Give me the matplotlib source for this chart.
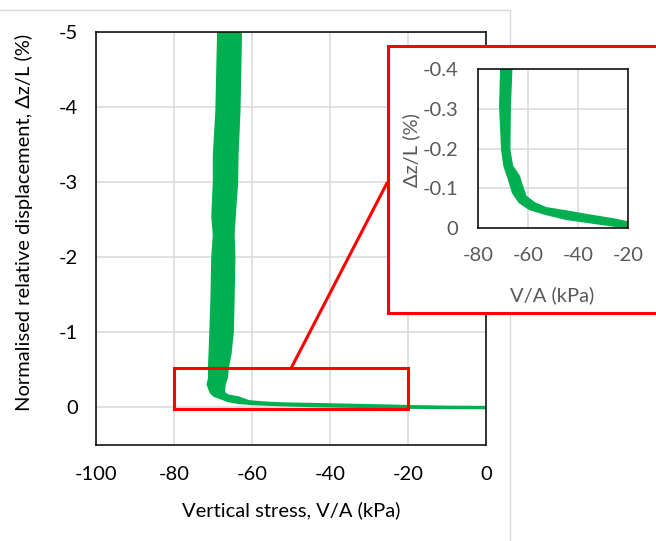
import matplotlib

matplotlib.use("Agg")
import matplotlib.pyplot as plt
from matplotlib.lines import Line2D
from matplotlib.patches import ConnectionPatch, Rectangle

# envelope of the measured trace, read off the picture
# outer edge = left side of the column, then lower side of the tail
outer_stress = [-68.6, -68.6, -69.05, -69.7, -69.7, -70.1, -69.7, -70.1, -70.3, -70.6, -70.8,
                -70.95, -70.9, -71.3, -70.5, -69.6, -67.8, -66.2, -63.5, -59.5, -52.8, -44.8,
                -32.7, -23.4, -20.0, -10.0, 0.0]
outer_disp = [-5.1, -5.0, -3.95, -3.35, -3.0, -2.55, -2.3, -2.0, -1.47, -1.0, -0.71,
              -0.53, -0.4, -0.306, -0.197, -0.156, -0.122, -0.089, -0.064, -0.047, -0.034, -0.022,
              -0.011, -0.003, 0.0, 0.004, 0.006]
# inner edge = right side of the column, then upper side of the tail
inner_stress = [-62.9, -62.9, -63.3, -63.8, -63.9, -64.5, -64.8, -64.6, -64.8, -65.0, -65.6,
                -66.3, -66.5, -67.1, -67.3, -66.2, -63.5, -62.2, -60.8, -57.5, -52.8, -44.8,
                -36.7, -26.0, -20.0, -10.0, 0.0]
inner_disp = [-5.1, -5.0, -3.95, -3.35, -3.0, -2.55, -2.3, -2.0, -1.47, -1.0, -0.71,
              -0.53, -0.4, -0.306, -0.197, -0.156, -0.131, -0.105, -0.08, -0.064, -0.051, -0.043,
              -0.034, -0.023, -0.015, -0.006, -0.003]

main_xticks = [-100, -80, -60, -40, -20, 0]
main_yticks = [-5, -4, -3, -2, -1, 0]
inset_xticks = [-80, -60, -40, -20]
inset_yticks = [-0.4, -0.3, -0.2, -0.1, 0.0]
inset_ylabels = ["-0.4", "-0.3", "-0.2", "-0.1", "0"]

GREEN = "#00B050"
GRID = "#d9d9d9"
W, H = 656, 541
FS = 14.5

plt.rcParams["font.family"] = ["Lato", "DejaVu Sans"]
plt.rcParams["axes.unicode_minus"] = False


def px_box(left, top, right, bottom):
    return [left / W, 1 - bottom / H, (right - left) / W, (bottom - top) / H]


def style_axes(ax, color, xpad, ypad):
    ax.grid(True, color=GRID, lw=1.1)
    ax.set_axisbelow(True)
    for sp in ax.spines.values():
        sp.set_color("black")
        sp.set_linewidth(1.1)
    ax.tick_params(length=0, labelsize=FS, labelcolor=color)
    ax.tick_params(axis="x", pad=xpad)
    ax.tick_params(axis="y", pad=ypad)


band_x = outer_stress + inner_stress[::-1]
band_y = outer_disp + inner_disp[::-1]

fig = plt.figure(figsize=(W / 100, H / 100), dpi=100)

# faint chart-area border (top and right)
fig.add_artist(Line2D([0, 510 / W], [1 - 9.5 / H] * 2, transform=fig.transFigure, color=GRID, lw=1))
fig.add_artist(Line2D([510 / W] * 2, [1 - 9.5 / H, 0], transform=fig.transFigure, color=GRID, lw=1))

ax = fig.add_axes(px_box(96, 32, 486, 445))
ax.fill(band_x, band_y, color=GREEN, ec=GREEN, lw=2)
ax.set_xlim(-100, 0)
ax.set_ylim(0.5, -5)
ax.set_xticks(main_xticks)
ax.set_yticks(main_yticks)
style_axes(ax, "black", 15, 13)
ax.add_patch(Rectangle((-80, -0.52), 60, 0.54, fill=False, ec="red", lw=2.2, zorder=4))

fig.text(291 / W, 1 - 510 / H, "Vertical stress, V/A (kPa)", ha="center", va="center", fontsize=FS)
fig.text(24 / W, 1 - 222 / H, "Normalised relative displacement, \u0394z/L (%)", ha="center",
         va="center", rotation=90, fontsize=FS)

# red frame around the zoomed view
fig.add_artist(Rectangle((388 / W, 1 - 313 / H), (680 - 388) / W, (313 - 46) / H,
                         transform=fig.transFigure, fc="white", ec="red", lw=2.2, zorder=2))
con = ConnectionPatch(xyA=(-50, -0.52), coordsA="data", axesA=ax,
                      xyB=(387 / W, 1 - 183 / H), coordsB="figure fraction",
                      color="red", lw=2.2, zorder=2.5)
fig.add_artist(con)

ins = fig.add_axes(px_box(478, 69, 628, 228))
ins.set_zorder(3)
ins.fill(band_x, band_y, color=GREEN, ec=GREEN, lw=1)
ins.set_xlim(-80, -20)
ins.set_ylim(0, -0.4)
ins.set_xticks(inset_xticks)
ins.set_yticks(inset_yticks)
ins.set_yticklabels(inset_ylabels)
style_axes(ins, "#595959", 14, 14)

fig.text(552 / W, 1 - 295 / H, "V/A (kPa)", ha="center", va="center", fontsize=FS, color="#595959")
fig.text(411 / W, 1 - 150 / H, "\u0394z/L (%)", ha="center", va="center", rotation=90,
         fontsize=FS, color="#595959", zorder=5)

fig.savefig("out.png", dpi=100)
